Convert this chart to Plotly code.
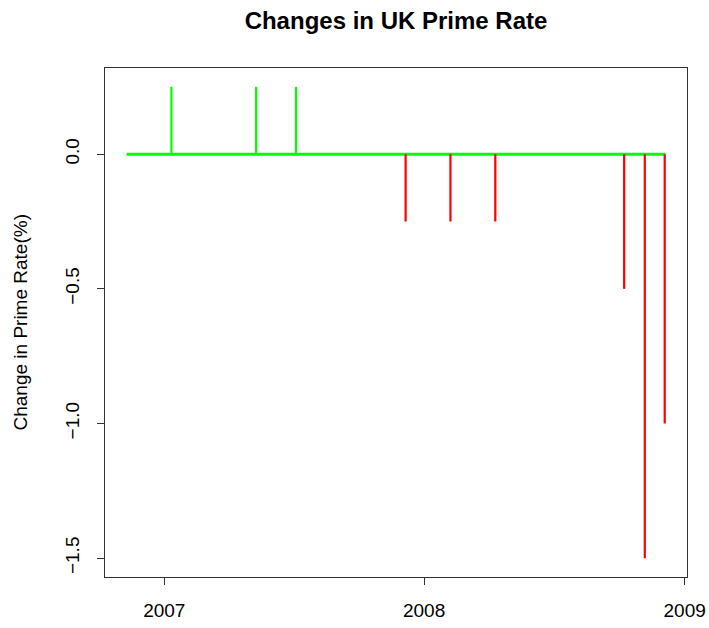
import pandas as pd
import plotly.graph_objects as go

# Bank Rate decisions and the size of each move (percentage points)
change_dates = ["2007-01-11", "2007-05-10", "2007-07-05", "2007-12-06",
                "2008-02-07", "2008-04-10", "2008-10-08", "2008-11-06",
                "2008-12-04"]
change_values = [0.25, 0.25, 0.25, -0.25, -0.25, -0.25, -0.5, -1.5, -1.0]

# Span of the daily series the changes were taken from
series_start = "2006-11-09"
series_end = "2008-12-05"

x_tick_dates = ["2007-01-01", "2008-01-01", "2009-01-01"]
x_tick_labels = ["2007", "2008", "2009"]
y_tick_values = [0.0, -0.5, -1.0, -1.5]
y_tick_labels = ["0.0", "\u22120.5", "\u22121.0", "\u22121.5"]

GREEN = "#00FF00"
RED = "#FF0000"

fig = go.Figure()

# zero-change days form a flat green baseline
fig.add_trace(go.Scatter(
    x=[series_start, series_end], y=[0, 0], mode="lines",
    line=dict(color=GREEN, width=3), hoverinfo="skip", showlegend=False))


def spikes(sign_ok):
    xs, ys = [], []
    for d, v in zip(change_dates, change_values):
        if sign_ok(v):
            xs += [d, d, None]
            ys += [0, v, None]
    return xs, ys


for test, col in [(lambda v: v >= 0, GREEN), (lambda v: v < 0, RED)]:
    xs, ys = spikes(test)
    fig.add_trace(go.Scatter(x=xs, y=ys, mode="lines",
                             line=dict(color=col, width=2.2),
                             showlegend=False))

# axis ranges padded 4% either side, like base graphics
t0, t1 = pd.Timestamp(series_start), pd.Timestamp(series_end)
pad = (t1 - t0) * 0.04
y_lo, y_hi = min(change_values + [0]), max(change_values + [0])
ypad = (y_hi - y_lo) * 0.04

font = "Liberation Sans, Arial, sans-serif"
L, R, T, B = 105, 22, 68, 51
plot_w = 709 - L - R

fig.update_layout(
    width=709, height=628,
    margin=dict(l=L, r=R, t=T, b=B),
    paper_bgcolor="white", plot_bgcolor="white",
    font=dict(family=font, color="black", size=19),
    title=dict(text="<b>Changes in UK Prime Rate</b>", x=396 / 709,
               xanchor="center", y=1 - 21 / 628, yanchor="middle",
               font=dict(size=24, family=font, color="black"),
               automargin=False),
    xaxis=dict(range=[t0 - pad, t1 + pad], showgrid=False, zeroline=False,
               showline=True, linecolor="#333333", linewidth=1, mirror=True,
               ticks="outside", ticklen=7, tickcolor="#333333",
               tickvals=x_tick_dates, ticktext=x_tick_labels,
               tickfont=dict(size=19), ticklabelstandoff=9,
               automargin=False),
    yaxis=dict(range=[y_lo - ypad, y_hi + ypad], showgrid=False,
               zeroline=False, showline=True, linecolor="#333333",
               linewidth=1, mirror=True, ticks="outside", ticklen=7,
               tickcolor="#333333", tickvals=y_tick_values,
               ticktext=y_tick_labels, tickangle=-90,
               tickfont=dict(size=19), ticklabelstandoff=10,
               automargin=False),
    annotations=[dict(text="Change in Prime Rate(%)", textangle=-90,
                      xref="paper", yref="paper", x=(20 - L) / plot_w,
                      y=0.5, xanchor="center", yanchor="middle",
                      showarrow=False, font=dict(size=19, family=font))],
)

fig.write_html("out.html")
